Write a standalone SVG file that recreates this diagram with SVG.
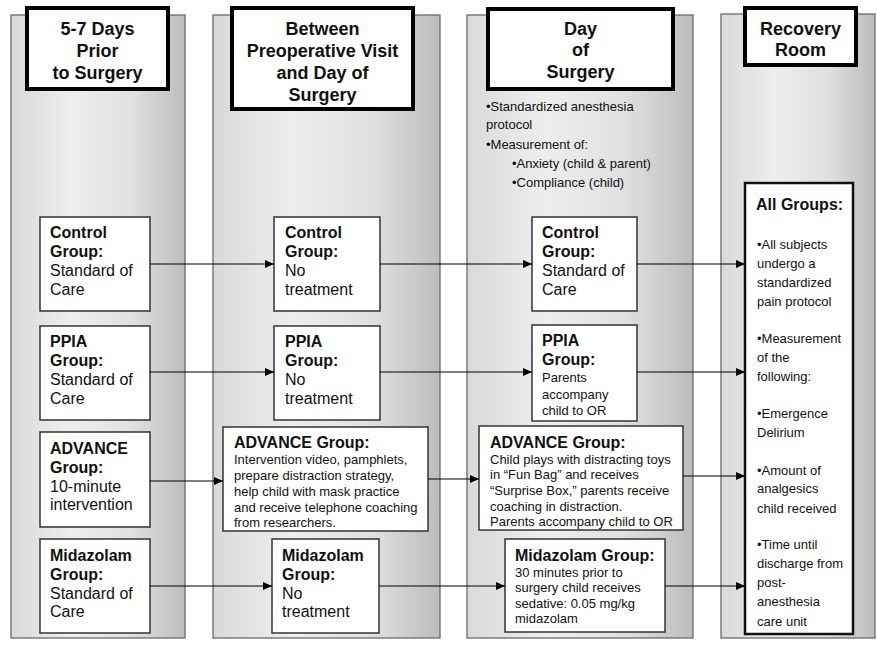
<svg xmlns="http://www.w3.org/2000/svg" width="877" height="645" viewBox="0 0 877 645">
<defs>
<linearGradient id="pg" x1="0" y1="0" x2="1" y2="0">
<stop offset="0" stop-color="#d9d9d9"/>
<stop offset="0.35" stop-color="#eeeeee"/>
<stop offset="0.7" stop-color="#e0e0e0"/>
<stop offset="1" stop-color="#bcbcbc"/>
</linearGradient>
<marker id="ah" markerWidth="9" markerHeight="8" refX="9" refY="4" orient="auto" markerUnits="userSpaceOnUse">
<path d="M0,0 L9,4 L0,8 Z" fill="#000"/>
</marker>
<style>
.panel{fill:url(#pg);stroke:#6a6a6a;stroke-width:1.3}
.title{fill:#fff;stroke:#000;stroke-width:4}
.box{fill:#fff;stroke:#333;stroke-width:1.5}
.big{fill:#fff;stroke:#111;stroke-width:2.5}
text{font-family:"Liberation Sans",Arial,sans-serif;fill:#111}
.t{font-size:18px;font-weight:bold;text-anchor:middle}
.h{font-size:16px;font-weight:bold}
.b{font-size:16px}
.s{font-size:13px}
.c line{stroke:#000;stroke-width:1.2;marker-end:url(#ah)}
</style>
</defs>

<g id="col1">
<rect class="panel" x="11" y="15" width="174" height="623"/>
<rect class="title" x="27" y="8" width="141" height="81"/>
<text class="t" x="97.5" y="35">5-7 Days</text>
<text class="t" x="97.5" y="57">Prior</text>
<text class="t" x="97.5" y="79">to Surgery</text>
</g>
<g id="col2">
<rect class="panel" x="213" y="15" width="227" height="623"/>
<rect class="title" x="232" y="8" width="181" height="101"/>
<text class="t" x="322.5" y="35">Between</text>
<text class="t" x="322.5" y="57">Preoperative Visit</text>
<text class="t" x="322.5" y="79">and Day of</text>
<text class="t" x="322.5" y="101">Surgery</text>
</g>
<g id="col3">
<rect class="panel" x="467" y="15" width="226" height="623"/>
<rect class="title" x="488" y="9" width="185" height="80"/>
<text class="t" x="580.5" y="35">Day</text>
<text class="t" x="580.5" y="56">of</text>
<text class="t" x="580.5" y="78">Surgery</text>
<text class="s" x="486" y="111">•Standardized anesthesia</text>
<text class="s" x="486" y="129">protocol</text>
<text class="s" x="486" y="149">•Measurement of:</text>
<text class="s" x="512" y="168">•Anxiety (child &amp; parent)</text>
<text class="s" x="512" y="187">•Compliance (child)</text>
</g>
<g id="col4">
<rect class="panel" x="721" y="14" width="154" height="624"/>
<rect class="title" x="745" y="8" width="111" height="57"/>
<text class="t" x="800.5" y="35">Recovery</text>
<text class="t" x="800.5" y="56">Room</text>
</g>

<g id="c1-control">
<rect class="box" x="40" y="217" width="110" height="94"/>
<text class="h" x="50" y="238">Control</text>
<text class="h" x="50" y="257">Group:</text>
<text class="b" x="50" y="276">Standard of</text>
<text class="b" x="50" y="295">Care</text>
</g>
<g id="c1-ppia">
<rect class="box" x="40" y="326" width="110" height="94"/>
<text class="h" x="50" y="347">PPIA</text>
<text class="h" x="50" y="366">Group:</text>
<text class="b" x="50" y="385">Standard of</text>
<text class="b" x="50" y="404">Care</text>
</g>
<g id="c1-advance">
<rect class="box" x="40" y="432" width="110" height="95"/>
<text class="h" x="50" y="454">ADVANCE</text>
<text class="h" x="50" y="473">Group:</text>
<text class="b" x="50" y="492">10-minute</text>
<text class="b" x="50" y="510">intervention</text>
</g>
<g id="c1-midazolam">
<rect class="box" x="40" y="539" width="110" height="94"/>
<text class="h" x="50" y="561">Midazolam</text>
<text class="h" x="50" y="580">Group:</text>
<text class="b" x="50" y="599">Standard of</text>
<text class="b" x="50" y="617">Care</text>
</g>

<g id="c2-control">
<rect class="box" x="274" y="217" width="106" height="94"/>
<text class="h" x="285" y="238">Control</text>
<text class="h" x="285" y="257">Group:</text>
<text class="b" x="285" y="276">No</text>
<text class="b" x="285" y="295">treatment</text>
</g>
<g id="c2-ppia">
<rect class="box" x="274" y="326" width="106" height="94"/>
<text class="h" x="285" y="347">PPIA</text>
<text class="h" x="285" y="366">Group:</text>
<text class="b" x="285" y="385">No</text>
<text class="b" x="285" y="404">treatment</text>
</g>
<g id="c2-advance">
<rect class="box" x="223" y="427" width="205" height="104"/>
<text class="h" x="234" y="448">ADVANCE Group:</text>
<text class="s" x="234" y="464">Intervention video, pamphlets,</text>
<text class="s" x="234" y="480">prepare distraction strategy,</text>
<text class="s" x="234" y="496">help child with mask practice</text>
<text class="s" x="234" y="512">and receive telephone coaching</text>
<text class="s" x="234" y="527">from researchers.</text>
</g>
<g id="c2-midazolam">
<rect class="box" x="272" y="539" width="107" height="94"/>
<text class="h" x="282" y="561">Midazolam</text>
<text class="h" x="282" y="580">Group:</text>
<text class="b" x="282" y="599">No</text>
<text class="b" x="282" y="617">treatment</text>
</g>

<g id="c3-control">
<rect class="box" x="532" y="217" width="105" height="94"/>
<text class="h" x="542" y="238">Control</text>
<text class="h" x="542" y="257">Group:</text>
<text class="b" x="542" y="276">Standard of</text>
<text class="b" x="542" y="295">Care</text>
</g>
<g id="c3-ppia">
<rect class="box" x="532" y="325" width="105" height="96"/>
<text class="h" x="542" y="346">PPIA</text>
<text class="h" x="542" y="365">Group:</text>
<text class="s" x="542" y="382"> Parents</text>
<text class="s" x="542" y="399">accompany</text>
<text class="s" x="542" y="415">child to OR</text>
</g>
<g id="c3-advance">
<rect class="box" x="479" y="426" width="204" height="104"/>
<text class="h" x="490" y="448">ADVANCE Group:</text>
<text class="s" x="490" y="464">Child plays with distracting toys</text>
<text class="s" x="490" y="479">in “Fun Bag” and receives</text>
<text class="s" x="490" y="495">“Surprise Box,” parents receive</text>
<text class="s" x="490" y="511">coaching in distraction.</text>
<text class="s" x="490" y="526">Parents accompany child to OR</text>
</g>
<g id="c3-midazolam">
<rect class="box" x="505" y="539" width="160" height="93"/>
<text class="h" x="515" y="561">Midazolam Group:</text>
<text class="s" x="515" y="577">30 minutes prior to</text>
<text class="s" x="515" y="592">surgery child receives</text>
<text class="s" x="515" y="608">sedative: 0.05 mg/kg</text>
<text class="s" x="515" y="623">midazolam</text>
</g>

<g id="c4-all">
<rect class="big" x="745" y="183" width="108" height="451"/>
<text class="h" x="756" y="210">All Groups:</text>
<text class="s" x="757" y="249">•All subjects</text>
<text class="s" x="757" y="268">undergo a</text>
<text class="s" x="757" y="287">standardized</text>
<text class="s" x="757" y="306">pain protocol</text>
<text class="s" x="757" y="343">•Measurement</text>
<text class="s" x="757" y="362">of the</text>
<text class="s" x="757" y="381">following:</text>
<text class="s" x="757" y="418">•Emergence</text>
<text class="s" x="757" y="437">Delirium</text>
<text class="s" x="757" y="475">•Amount of</text>
<text class="s" x="757" y="493">analgesics</text>
<text class="s" x="757" y="513">child received</text>
<text class="s" x="757" y="549">•Time until</text>
<text class="s" x="757" y="568">discharge from</text>
<text class="s" x="757" y="587">post-</text>
<text class="s" x="757" y="606">anesthesia</text>
<text class="s" x="757" y="626">care unit</text>
</g>

<g id="connectors" class="c">
<line x1="150" y1="264" x2="274" y2="264"/>
<line x1="380" y1="264" x2="532" y2="264"/>
<line x1="637" y1="264" x2="745" y2="264"/>
<line x1="150" y1="372" x2="274" y2="372"/>
<line x1="380" y1="372" x2="532" y2="372"/>
<line x1="637" y1="372" x2="745" y2="372"/>
<line x1="150" y1="481" x2="223" y2="481"/>
<line x1="428" y1="479" x2="479" y2="479"/>
<line x1="683" y1="476" x2="745" y2="476"/>
<line x1="150" y1="586" x2="272" y2="586"/>
<line x1="379" y1="586" x2="505" y2="586"/>
<line x1="665" y1="586" x2="745" y2="586"/>
</g>
</svg>
